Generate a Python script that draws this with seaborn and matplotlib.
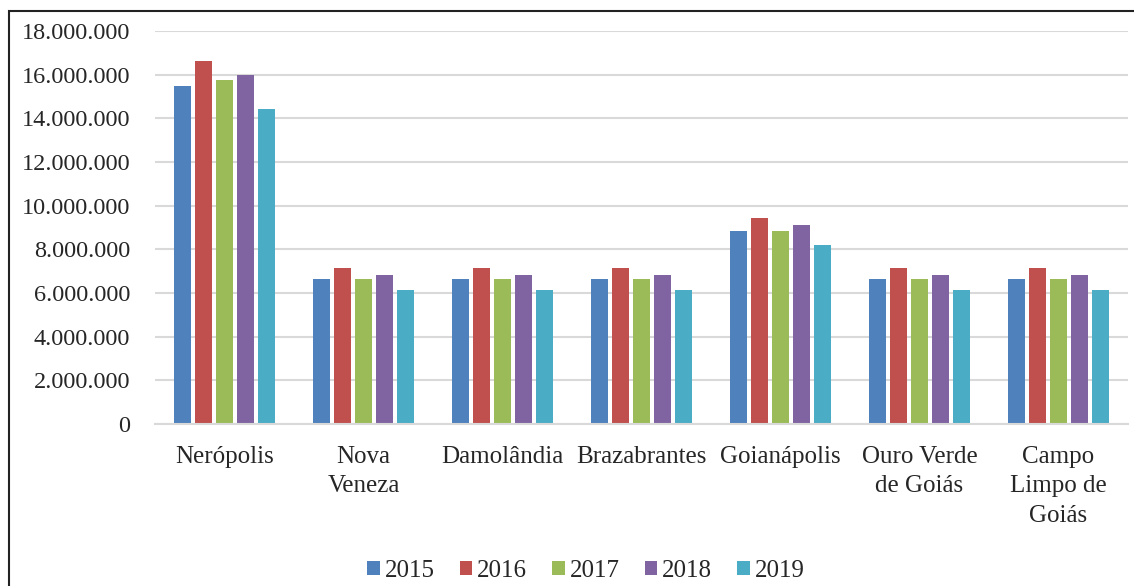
import pandas as pd
import numpy as np
import matplotlib.pyplot as plt
import matplotlib.patches as mpatches
import seaborn as sns

# municipalities and yearly values
municipios = ['Nerópolis', 'Nova\nVeneza', 'Damolândia', 'Brazabrantes',
              'Goianápolis', 'Ouro Verde\nde Goiás', 'Campo\nLimpo de\nGoiás']
anos = ['2015', '2016', '2017', '2018', '2019']
v2015 = [15480000, 6630000, 6630000, 6630000, 8860000, 6630000, 6630000]
v2016 = [16640000, 7130000, 7130000, 7130000, 9450000, 7130000, 7130000]
v2017 = [15740000, 6630000, 6630000, 6630000, 8860000, 6630000, 6630000]
v2018 = [15980000, 6810000, 6810000, 6810000, 9120000, 6810000, 6810000]
v2019 = [14410000, 6140000, 6140000, 6140000, 8220000, 6140000, 6140000]
cores = ['#4F81BD', '#C0504D', '#9BBB59', '#8064A2', '#4BACC6']

# long-form table for seaborn
rows = []
for ano, vals in zip(anos, [v2015, v2016, v2017, v2018, v2019]):
    for m, v in zip(municipios, vals):
        rows.append({'Municipio': m, 'Ano': ano, 'Valor': v})
df = pd.DataFrame(rows)

sns.set_style('white')
plt.rcParams['font.family'] = ['Liberation Serif', 'DejaVu Serif']

fig = plt.figure(figsize=(11.34, 5.86), dpi=100)
ax = fig.add_axes([155 / 1134, 1 - 424 / 586, (1128 - 155) / 1134, (424 - 31) / 586])

sns.barplot(data=df, x='Municipio', y='Valor', hue='Ano', palette=cores, saturation=1,
            width=0.76, gap=0.18, linewidth=0, ax=ax, order=municipios, hue_order=anos)

ax.set_ylim(0, 18000000)
ax.set_xlim(-0.5, len(municipios) - 0.5)
yt = np.arange(0, 18000001, 2000000)
ax.set_yticks(yt)
ax.set_yticklabels([f'{v:,.0f}'.replace(',', '.') for v in yt], fontsize=17.5)
ax.tick_params(axis='y', length=0, pad=18)
ax.tick_params(axis='x', length=0, pad=16, labelsize=18)
for lab in ax.get_xticklabels():
    lab.set_linespacing(1.42)
ax.set_xlabel('')
ax.set_ylabel('')
ax.grid(axis='y', color='#D9D9D9', linewidth=1.5)
ax.set_axisbelow(True)
for s in ['top', 'right', 'left']:
    ax.spines[s].set_visible(False)
ax.spines['bottom'].set_color('#D9D9D9')
ax.spines['bottom'].set_linewidth(1.5)

sns.move_legend(ax, 'center', bbox_to_anchor=(586 / 1134, 1 - 571 / 586),
                bbox_transform=fig.transFigure, ncol=5, frameon=False, title=None,
                fontsize=18, handlelength=0.5, handleheight=0.5, handletextpad=0.2,
                columnspacing=1.0)

# outer frame of the original figure
fig.patches.append(mpatches.Rectangle((9 / 1134, -0.1), 1.2, 1.1 - 11 / 586,
                                      transform=fig.transFigure, fill=False,
                                      edgecolor='#222222', linewidth=1.5))

plt.savefig('out.png', dpi=100)
